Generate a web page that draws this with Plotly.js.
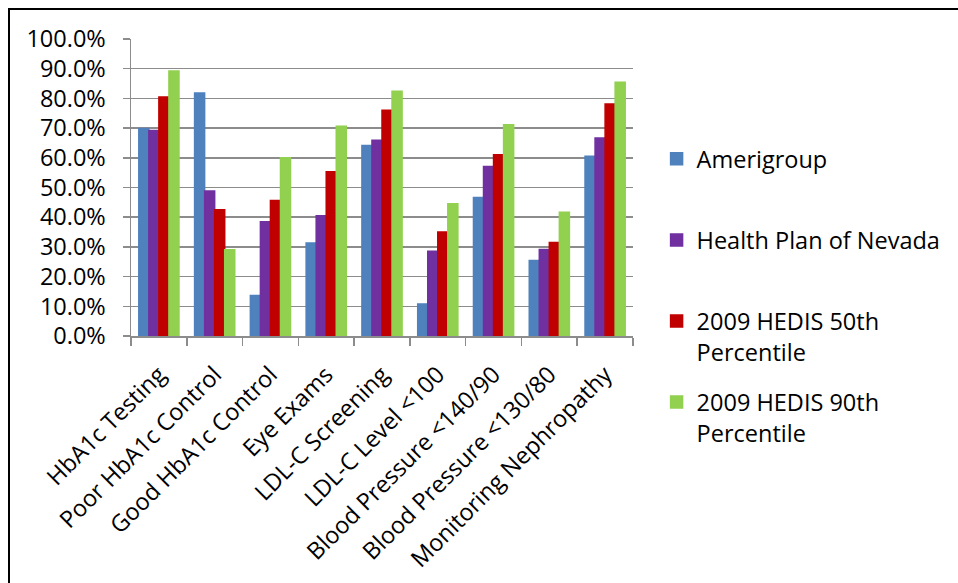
<!DOCTYPE html>
<html>
<head>
<meta charset="utf-8">
<script src="https://cdn.plot.ly/plotly-3.0.1.min.js"></script>
<style>
html,body{margin:0;padding:0;background:#fff;}
#wrap{position:relative;width:958px;height:583px;}
#chart{width:958px;height:583px;}
#frame{position:absolute;left:8px;top:8px;width:950px;height:575px;border-top:2px solid #000;border-left:2px solid #000;pointer-events:none;box-sizing:border-box;}
</style>
</head>
<body>
<div id="wrap"><div id="chart"></div><div id="frame"></div></div>
<script>
const categories = ["HbA1c Testing","Poor HbA1c Control","Good HbA1c Control","Eye Exams","LDL-C Screening","LDL-C Level <100","Blood Pressure <140/90","Blood Pressure <130/80","Monitoring Nephropathy"];
const amerigroup = [0.699,0.818,0.136,0.313,0.641,0.108,0.466,0.254,0.605];
const healthPlanNevada = [0.692,0.488,0.385,0.405,0.659,0.285,0.571,0.291,0.667];
const hedis50 = [0.805,0.425,0.456,0.553,0.760,0.350,0.610,0.315,0.781];
const hedis90 = [0.892,0.290,0.600,0.706,0.824,0.445,0.711,0.417,0.854];
const seriesNames = ["Amerigroup<br> ","Health Plan of Nevada<br> ","2009 HEDIS 50th<br>Percentile","2009 HEDIS 90th<br>Percentile"];
const seriesColors = ["#4F81BD","#7030A0","#C00000","#92D050"];
const yTicks = [0,0.1,0.2,0.3,0.4,0.5,0.6,0.7,0.8,0.9,1.0];

const values = [amerigroup, healthPlanNevada, hedis50, hedis90];
const traces = values.map((v,i)=>({
  type:'bar', x:categories, y:v, name:seriesNames[i],
  legendgroup:'g'+i,
  marker:{color:seriesColors[i], line:{width:1.5, color:seriesColors[i]}},
  hoverinfo:'x+y'
}));

const font = "'Open Sans', 'Noto Sans', sans-serif";
const fs = 23.5;
const layout = {
  width:958, height:583,
  margin:{l:131, r:320, t:39, b:247, pad:0},
  paper_bgcolor:'#fff', plot_bgcolor:'#fff',
  font:{family:font, size:fs, color:'#000'},
  barmode:'group', bargap:0.28, bargroupgap:0,
  showlegend:true,
  legend:{x:1.047, xanchor:'left', xref:'paper', y:0.67, yanchor:'top',
          traceorder:'grouped', tracegroupgap:17, valign:'top', maxheight:520,
          font:{family:font, size:fs, color:'#000'}, bgcolor:'rgba(0,0,0,0)'},
  xaxis:{type:'category', showgrid:false, showline:true, linecolor:'#8c8c8c', linewidth:1.5,
         ticks:'outside', tickson:'boundaries', ticklen:8, tickcolor:'#8c8c8c', tickwidth:1.5,
         tickangle:-45, tickfont:{family:font, size:fs, color:'#000'}, ticklabelstandoff:14, automargin:false},
  yaxis:{range:[0,1], tickvals:yTicks, tickformat:'.1%', showgrid:true, gridcolor:'#8c8c8c', gridwidth:1.5,
         showline:true, linecolor:'#8c8c8c', linewidth:1.5, ticks:'outside', ticklen:7,
         tickcolor:'#8c8c8c', tickwidth:1.5, zeroline:false,
         tickfont:{family:font, size:fs, color:'#000'}, ticklabelstandoff:12, automargin:false}
};
Plotly.newPlot('chart', traces, layout, {displayModeBar:false, staticPlot:true});
</script>
</body>
</html>
